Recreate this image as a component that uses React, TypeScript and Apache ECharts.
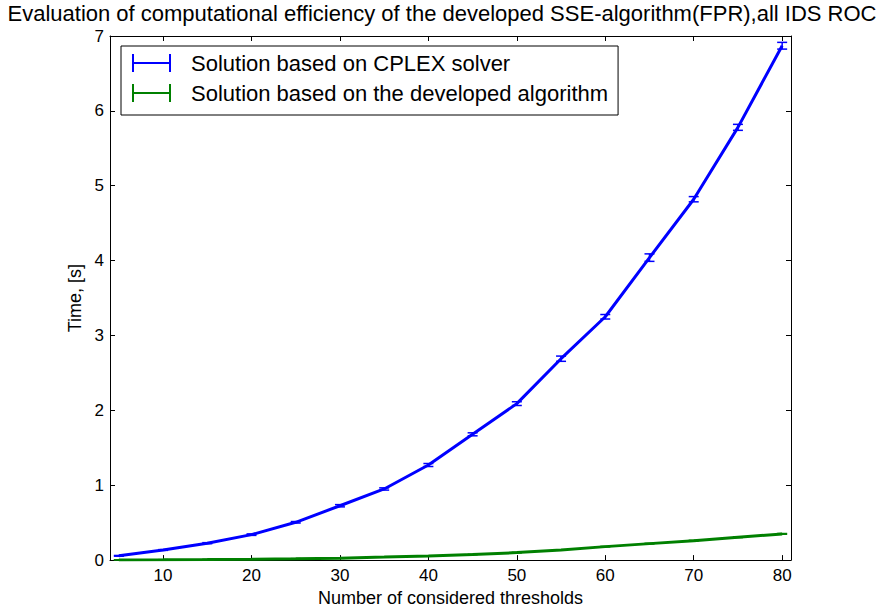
import React, { useEffect, useRef } from "react";
import * as echarts from "echarts";

const thresholds = [5, 10, 15, 20, 25, 30, 35, 40, 45, 50, 55, 60, 65, 70, 75, 80];
const cplexTime = [0.057, 0.135, 0.226, 0.34, 0.505, 0.726, 0.95, 1.27, 1.68, 2.09, 2.69, 3.25, 4.04, 4.82, 5.78, 6.87];
const cplexErr = [0.005, 0.005, 0.007, 0.01, 0.01, 0.015, 0.015, 0.02, 0.02, 0.025, 0.035, 0.03, 0.05, 0.035, 0.04, 0.045];
const algoTime = [0.003, 0.005, 0.008, 0.012, 0.018, 0.026, 0.04, 0.055, 0.075, 0.1, 0.135, 0.18, 0.22, 0.26, 0.305, 0.35];
const algoErr = [0.001, 0.001, 0.001, 0.001, 0.002, 0.002, 0.002, 0.002, 0.003, 0.003, 0.003, 0.003, 0.004, 0.004, 0.004, 0.005];
const xTicks = [10, 20, 30, 40, 50, 60, 70, 80];

const seriesNames = ["Solution based on CPLEX solver", "Solution based on the developed algorithm"];
const colors = ["#0000ff", "#008000"];
const FONT = "Liberation Sans, Arial, Helvetica, sans-serif";

export default function App() {
  const ref = useRef<HTMLDivElement>(null);
  useEffect(() => {
    const chart = echarts.init(ref.current!, null, { renderer: "svg" });
    const lineData = (vals: number[]) => thresholds.map((x, i) => [x, vals[i]]);
    const errData = (vals: number[], errs: number[]) => thresholds.map((x, i) => [x, vals[i], errs[i]]);
    const errSeries = (name: string, vals: number[], errs: number[], color: string) => ({
      type: "custom",
      name,
      data: errData(vals, errs),
      encode: { x: 0, y: 1 },
      z: 5,
      silent: true,
      renderItem: (_p: any, api: any) => {
        const x = api.value(0);
        const y = api.value(1);
        const e = api.value(2);
        const lo = api.coord([x, y - e]);
        const hi = api.coord([x, y + e]);
        const w = 5;
        const st = { stroke: color, lineWidth: 1.5 };
        return {
          type: "group",
          children: [
            { type: "line", shape: { x1: lo[0], y1: lo[1], x2: hi[0], y2: hi[1] }, style: st },
            { type: "line", shape: { x1: lo[0] - w, y1: lo[1], x2: lo[0] + w, y2: lo[1] }, style: st },
            { type: "line", shape: { x1: hi[0] - w, y1: hi[1], x2: hi[0] + w, y2: hi[1] }, style: st },
          ],
        };
      },
    });
    const axisCommon = {
      axisLine: { show: true, onZero: false, lineStyle: { color: "#000", width: 1 } },
      splitLine: { show: false },
    };
    const option: any = {
      animation: false,
      backgroundColor: "#fff",
      textStyle: { fontFamily: FONT },
      title: {
        text: "Evaluation of computational efficiency of the developed SSE-algorithm(FPR),all IDS ROC",
        left: "center",
        top: 2,
        padding: 0,
        textStyle: { fontFamily: FONT, fontSize: 22, fontWeight: "normal", color: "#000", lineHeight: 22 },
      },
      legend: {
        data: seriesNames,
        orient: "vertical",
        left: 121,
        top: 46,
        padding: [5, 10, 10, 11],
        itemGap: 6,
        itemWidth: 39,
        itemHeight: 18,
        icon: "path://M0,0h2v18h-2z M0,8h39v2h-39z M37,0h2v18h-2z",
        borderColor: "#000",
        borderWidth: 1,
        backgroundColor: "#fff",
        selectedMode: false,
        textStyle: { fontFamily: FONT, fontSize: 22, color: "#000", lineHeight: 24, padding: [0, 0, 0, 15] },
      },
      grid: { left: 110, right: 93, top: 36, bottom: 49 },
      xAxis: [
        {
          type: "value",
          min: 4,
          max: 81,
          position: "bottom",
          name: "Number of considered thresholds",
          nameLocation: "middle",
          nameGap: 28,
          nameTextStyle: { fontFamily: FONT, fontSize: 18, color: "#000" },
          ...axisCommon,
          axisTick: { show: true, inside: true, length: 5, customValues: xTicks, lineStyle: { color: "#000" } },
          axisLabel: { customValues: xTicks, fontFamily: FONT, fontSize: 17, color: "#000", margin: 7 },
        },
        {
          type: "value",
          min: 4,
          max: 81,
          position: "top",
          ...axisCommon,
          axisTick: { show: true, inside: true, length: 5, customValues: xTicks, lineStyle: { color: "#000" } },
          axisLabel: { show: false },
        },
      ],
      yAxis: [
        {
          type: "value",
          min: 0,
          max: 7,
          interval: 1,
          position: "left",
          name: "Time, [s]",
          nameLocation: "middle",
          nameGap: 23,
          nameRotate: 90,
          nameTextStyle: { fontFamily: FONT, fontSize: 18, color: "#000" },
          ...axisCommon,
          axisTick: { show: true, inside: true, length: 5, lineStyle: { color: "#000" } },
          axisLabel: { fontFamily: FONT, fontSize: 17, lineHeight: 17, color: "#000", margin: 6 },
        },
        {
          type: "value",
          min: 0,
          max: 7,
          interval: 1,
          position: "right",
          ...axisCommon,
          axisTick: { show: true, inside: true, length: 5, lineStyle: { color: "#000" } },
          axisLabel: { show: false },
        },
      ],
      series: [
        {
          type: "line",
          name: seriesNames[0],
          data: lineData(cplexTime),
          color: colors[0],
          showSymbol: false,
          symbol: "none",
          lineStyle: { color: colors[0], width: 3 },
          z: 3,
        },
        {
          type: "line",
          name: seriesNames[1],
          data: lineData(algoTime),
          color: colors[1],
          showSymbol: false,
          symbol: "none",
          lineStyle: { color: colors[1], width: 3 },
          z: 3,
        },
        errSeries("cplex-err", cplexTime, cplexErr, colors[0]),
        errSeries("algo-err", algoTime, algoErr, colors[1]),
      ],
    };
    chart.setOption(option);
    return () => chart.dispose();
  }, []);
  return (
    <div
      ref={ref}
      style={{ position: "fixed", left: 0, top: 0, width: 884, height: 612, background: "#fff" }}
    />
  );
}
